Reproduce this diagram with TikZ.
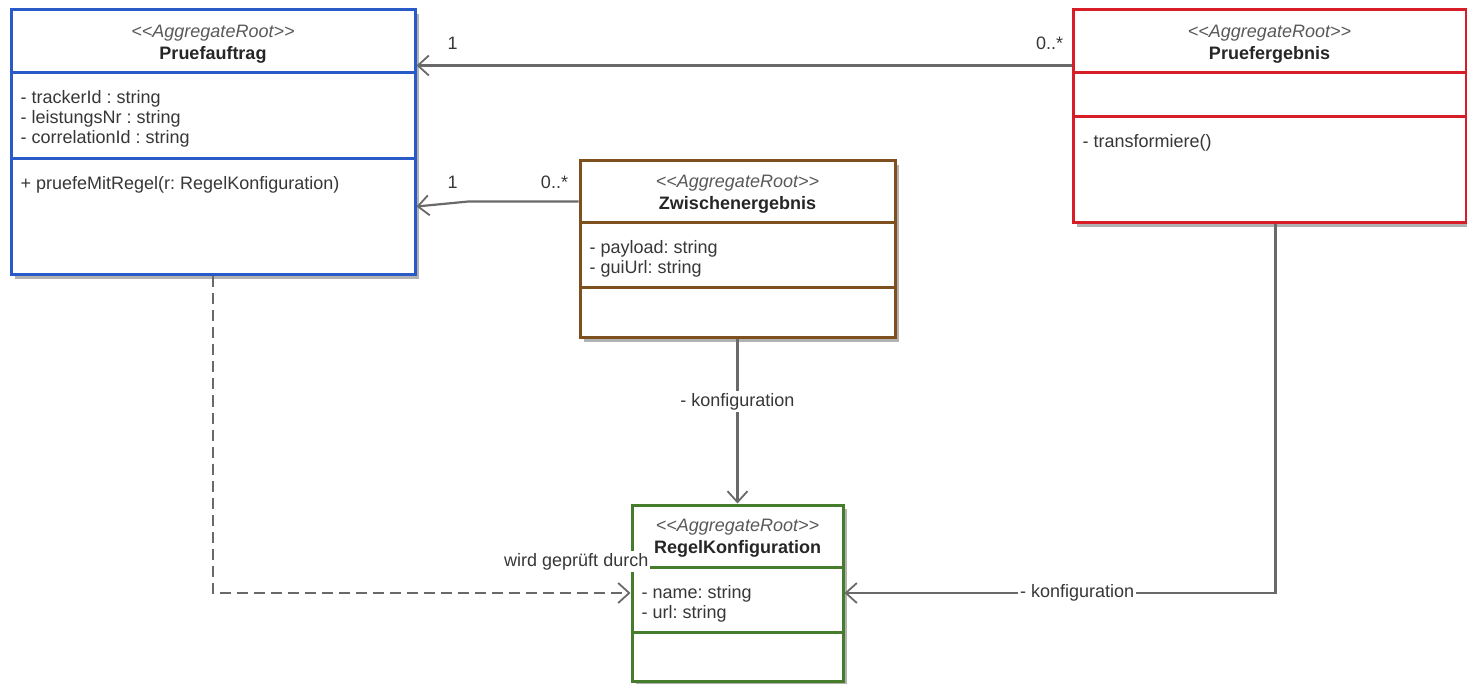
\documentclass[tikz,border=0pt]{standalone}
\usepackage{fontspec}
\setmainfont{Liberation Sans}
\usetikzlibrary{%
    arrows.meta,
    calc,
    positioning,
    shadows
}
\definecolor{auftragblue}{RGB}{40,90,200}
\definecolor{ergebnisred}{RGB}{215,30,40}
\definecolor{zwischenbrown}{RGB}{125,80,30}
\definecolor{regelgreen}{RGB}{70,125,45}
\definecolor{linegray}{RGB}{105,105,105}
\definecolor{textgray}{RGB}{55,55,55}
\newcommand\umlsize{\fontsize{18}{20}\selectfont\frenchspacing}
\tikzset{
    classbox/.style = {draw=#1, line width=3pt, fill=white, inner sep=0pt,
        drop shadow={shadow xshift=4pt, shadow yshift=-4pt, fill=black, opacity=.3}},
    compsep/.style = {draw=#1, line width=3pt},
    stereo/.style = {anchor=base, inner sep=0pt, text=black!65, font=\umlsize\itshape},
    classname/.style = {anchor=base, inner sep=0pt, text=black!85, font=\umlsize\bfseries},
    members/.style = {anchor=north west, inner sep=0pt, align=left, text=textgray, font=\umlsize},
    mult/.style = {anchor=base, inner sep=0pt, text=textgray, font=\umlsize},
    rolelabel/.style = {fill=white, inner sep=2pt, text=textgray, font=\umlsize},
    headarrow/.style = {-{Straight Barb[length=11pt,width=20pt,line width=1.8pt]}, draw=linegray, line width=2.2pt}
}

\begin{document}
\begin{tikzpicture}[x=1pt,y=-1pt]
    \path[fill=white, use as bounding box] (0,0) rectangle (1467,684);

    \node[classbox=auftragblue, minimum width=404pt, minimum height=265pt] (auftrag) at (213,142.5) {};
    \node[stereo] (auftragst) at ($(auftrag.north)+(0,29)$) {<{}<AggregateRoot>{}>};
    \node[classname] (auftragname) at ($(auftrag.north)+(0,51)$) {Pruefauftrag};
    \draw[compsep=auftragblue] ($(auftrag.north west)+(0,64)$) -- ($(auftrag.north east)+(0,64)$);
    \draw[compsep=auftragblue] ($(auftrag.north west)+(0,150)$) -- ($(auftrag.north east)+(0,150)$);
    \node[members] (auftragattr) at ($(auftrag.north west)+(11,81)$)
        {\strut- trackerId : string\\- leistungsNr : string\\- correlationId : string};
    \node[members] (auftragop) at ($(auftrag.north west)+(11,167)$)
        {\strut+ pruefeMitRegel(r: RegelKonfiguration)};

    \node[classbox=ergebnisred, minimum width=393pt, minimum height=213pt] (ergebnis) at (1269.5,116.5) {};
    \node[stereo] (ergebnisst) at ($(ergebnis.north)+(0,29)$) {<{}<AggregateRoot>{}>};
    \node[classname] (ergebnisname) at ($(ergebnis.north)+(0,51)$) {Pruefergebnis};
    \draw[compsep=ergebnisred] ($(ergebnis.north west)+(0,64)$) -- ($(ergebnis.north east)+(0,64)$);
    \draw[compsep=ergebnisred] ($(ergebnis.north west)+(0,108)$) -- ($(ergebnis.north east)+(0,108)$);
    \node[members] (ergebnisop) at ($(ergebnis.north west)+(11,125)$) {\strut- transformiere()};

    \node[classbox=zwischenbrown, minimum width=315pt, minimum height=177pt] (zwischen) at (737.5,249.5) {};
    \node[stereo] (zwischenst) at ($(zwischen.north)+(0,28)$) {<{}<AggregateRoot>{}>};
    \node[classname] (zwischenname) at ($(zwischen.north)+(0,50)$) {Zwischenergebnis};
    \draw[compsep=zwischenbrown] ($(zwischen.north west)+(0,63)$) -- ($(zwischen.north east)+(0,63)$);
    \draw[compsep=zwischenbrown] ($(zwischen.north west)+(0,128)$) -- ($(zwischen.north east)+(0,128)$);
    \node[members] (zwischenattr) at ($(zwischen.north west)+(11,80)$)
        {\strut- payload: string\\- guiUrl: string};

    \node[classbox=regelgreen, minimum width=211pt, minimum height=176pt] (regel) at (737.5,593) {};
    \node[stereo] (regelst) at ($(regel.north)+(0,28)$) {<{}<AggregateRoot>{}>};
    \node[classname] (regelname) at ($(regel.north)+(0,50)$) {RegelKonfiguration};
    \draw[compsep=regelgreen] ($(regel.north west)+(0,64)$) -- ($(regel.north east)+(0,64)$);
    \draw[compsep=regelgreen] ($(regel.north west)+(0,129)$) -- ($(regel.north east)+(0,129)$);
    \node[members] (regelattr) at ($(regel.north west)+(11,81)$)
        {\strut- name: string\\- url: string};

    \draw[headarrow] ($(ergebnis.north west)+(0,57)$) -- ($(auftrag.north east)+(0,57)$);
    \node[mult] (m1) at ($(auftrag.north east)+(36,41)$) {1};
    \node[mult] (m2) at ($(ergebnis.north west)+(-22,41)$) {0..*};

    \draw[headarrow] ($(zwischen.north west)+(0,42)$) -- ++(-110,0) -- ($(auftrag.north east)+(0,198)$);
    \node[mult] (m3) at ($(auftrag.north east)+(36,180)$) {1};
    \node[mult] (m4) at ($(zwischen.north west)+(-24,29)$) {0..*};

    \draw[headarrow] (zwischen.south) -- node[rolelabel, pos=.38] (konf1) {- konfiguration} (regel.north);
    \draw[headarrow] ([xshift=6pt]ergebnis.south) |- node[rolelabel, pos=.73] (konf2) {- konfiguration} (regel.east);

    \draw[headarrow, dash pattern=on 11pt off 6pt] (auftrag.south) |- (regel.west);
    \node[rolelabel, anchor=base east] (geprueft) at ($(regel.north west)+(20,63)$) {wird geprüft durch};
\end{tikzpicture}
\end{document}
